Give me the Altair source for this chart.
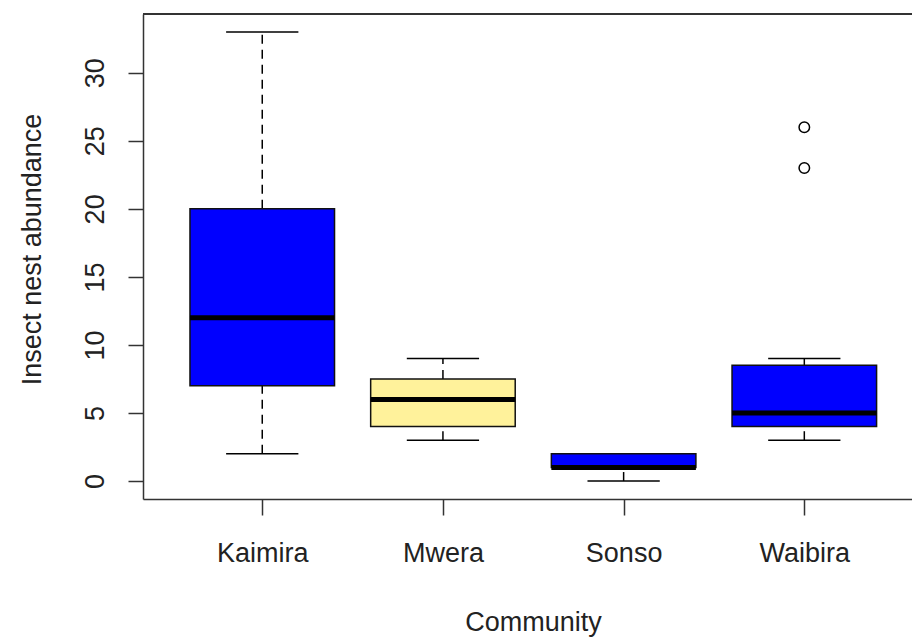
import altair as alt
import pandas as pd

# Box-plot summary per community
communities = ["Kaimira", "Mwera", "Sonso", "Waibira"]
lower_whisker = [2, 3, 0, 3]
q1 = [7, 4, 1, 4]
median = [12, 6, 1, 5]
q3 = [20, 7.5, 2, 8.5]
upper_whisker = [33, 9, 2, 9]
box_colours = ["#0000FF", "#FFF29B", "#0000FF", "#0000FF"]

# Points beyond the whiskers
outlier_community = ["Waibira", "Waibira"]
outlier_values = [23, 26]

y_ticks = [0, 5, 10, 15, 20, 25, 30]

W, H = 769, 485
FONT = "Liberation Sans"
INK = "#222222"
LINE = "#333333"

pos = [i + 1 for i in range(len(communities))]
boxes = pd.DataFrame({
    "community": communities,
    "pos": pos,
    "left": [p - 0.4 for p in pos],
    "right": [p + 0.4 for p in pos],
    "cap_left": [p - 0.2 for p in pos],
    "cap_right": [p + 0.2 for p in pos],
    "low": lower_whisker,
    "q1": q1,
    "median": median,
    "q3": q3,
    "high": upper_whisker,
    "colour": box_colours,
})
outliers = pd.DataFrame({
    "pos": [pos[communities.index(c)] for c in outlier_community],
    "value": outlier_values,
})

label_expr = "['', " + ", ".join(f"'{c}'" for c in communities) + "][datum.value]"

x_scale = alt.Scale(domain=[0.34, 4.596], nice=False, zero=False)
y_scale = alt.Scale(domain=[-1.32, 34.32], nice=False, zero=False)

x_axis = alt.Axis(
    values=pos, labelExpr=label_expr, title="Community", grid=False,
    tickSize=16, tickWidth=1.5, tickColor=LINE, domainColor=LINE, domainWidth=1.5,
    labelFont=FONT, labelFontSize=27, labelColor=INK, labelPadding=25,
    titleFont=FONT, titleFontSize=27, titleFontWeight="normal", titleColor=INK,
    titleX=390, titleY=131, titleAlign="center", titleBaseline="alphabetic",
)
y_axis = alt.Axis(
    values=y_ticks, title="Insect nest abundance", grid=False,
    tickSize=15, tickWidth=1.5, tickColor=LINE, domainColor=LINE, domainWidth=1.5,
    labelFont=FONT, labelFontSize=27, labelColor=INK, labelAngle=270,
    labelAlign="center", labelBaseline="alphabetic", labelPadding=25,
    titleFont=FONT, titleFontSize=27, titleFontWeight="normal", titleColor=INK,
    titleX=-103, titleY=235, titleAngle=270, titleAlign="center",
    titleBaseline="alphabetic",
)

base = alt.Chart(boxes)

upper_stem = base.mark_rule(color="black", strokeWidth=1.5, strokeDash=[9, 6]).encode(
    x=alt.X("pos:Q", scale=x_scale, axis=x_axis),
    y=alt.Y("q3:Q", scale=y_scale, axis=y_axis),
    y2="high:Q",
)
lower_stem = base.mark_rule(color="black", strokeWidth=1.5, strokeDash=[9, 6]).encode(
    x="pos:Q", y="low:Q", y2="q1:Q",
)
upper_cap = base.mark_rule(color="black", strokeWidth=1.5).encode(
    x="cap_left:Q", x2="cap_right:Q", y="high:Q",
)
lower_cap = base.mark_rule(color="black", strokeWidth=1.5).encode(
    x="cap_left:Q", x2="cap_right:Q", y="low:Q",
)
box = base.mark_rect(stroke="#111111", strokeWidth=1.5).encode(
    x="left:Q", x2="right:Q", y="q1:Q", y2="q3:Q",
    fill=alt.Fill("colour:N", scale=None),
)
mid = base.mark_rule(color="black", strokeWidth=5).encode(
    x="left:Q", x2="right:Q", y="median:Q",
)
points = alt.Chart(outliers).mark_point(
    shape="circle", filled=False, color="black", strokeWidth=1.5, size=110, opacity=1
).encode(x="pos:Q", y="value:Q")

# Top edge of the surrounding frame
top_edge = alt.Chart(boxes).mark_rule(color=LINE, strokeWidth=2).encode(
    x=alt.value(0), x2=alt.value(W), y=alt.value(0),
)

chart = alt.layer(
    upper_stem, lower_stem, upper_cap, lower_cap, box, mid, points, top_edge
).properties(
    width=W, height=H,
    padding={"left": 143, "top": 14, "right": 0, "bottom": 138},
    autosize=alt.AutoSizeParams(type="none"),
    background="white",
).configure_view(stroke=None)

chart.save("out.html", embed_options={"renderer": "svg", "actions": False})
